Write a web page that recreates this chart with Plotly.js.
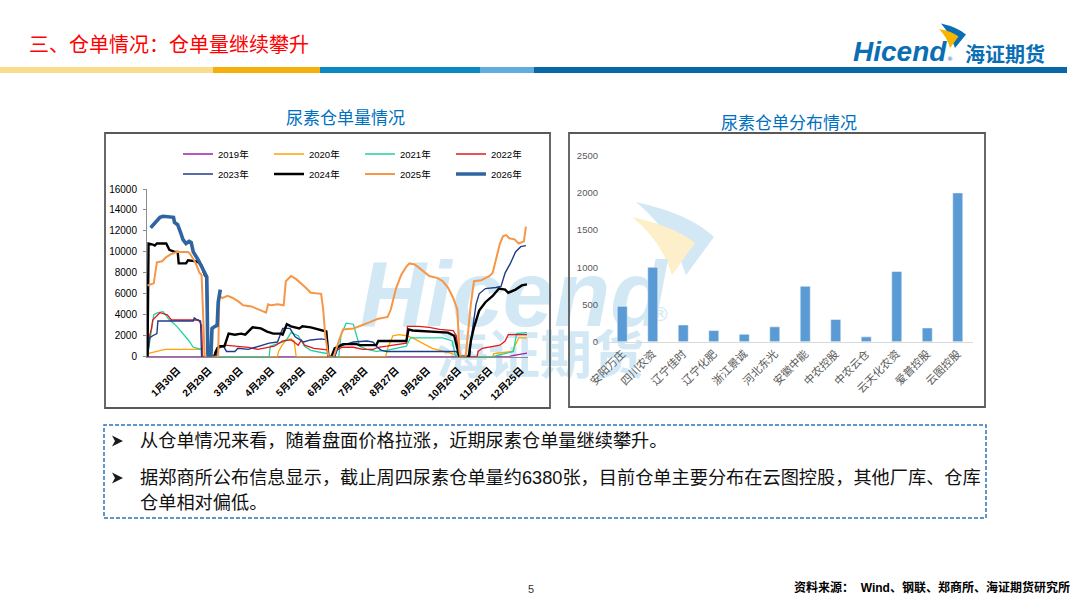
<!DOCTYPE html>
<html><head><meta charset="utf-8">
<script src="https://cdn.plot.ly/plotly-3.0.1.min.js"></script>
<style>html,body{margin:0;padding:0;background:#fff;}#chart{width:1080px;height:607px;}</style>
</head><body><div id="chart"></div><script>
// ---------- data ----------
const tickDays = [30,60,90,120,150,180,210,240,270,300,330,360];
const tickLabels = ['1月30日','2月29日','3月30日','4月29日','5月29日','6月28日','7月28日','8月27日','9月26日','10月26日','11月25日','12月25日'];

const seriesNames = ['2019年','2020年','2021年','2022年','2023年','2024年','2025年','2026年'];

const d2019 = [1,348,355,362,366];
const v2019 = [0,0,150,300,350];

const d2020 = [1,5,14,18,53,54,126,127,130,134,139,142,144,230,232,237,243,250,256,263,269,275,282,288,294,301,333,334,345,352,358,366];
const v2020 = [300,400,600,700,700,0,0,500,1000,1600,1700,1500,0,0,800,2000,2100,2000,1800,1400,1100,800,600,500,300,0,0,300,400,500,1800,1800];

const d2021 = [1,7,11,16,22,26,30,35,41,45,50,53,54,118,119,126,134,139,146,152,158,168,174,175,185,187,192,199,202,205,212,221,231,250,254,263,285,288,294,297,300,333,345,353,356,366];
const v2021 = [0,4000,4200,4300,3500,3200,2800,2200,1500,900,800,700,0,0,1000,1200,1500,2300,2000,1000,600,400,300,0,0,2000,3200,3100,2100,1000,700,500,600,1000,1800,1800,1800,1700,1500,200,0,0,300,500,2200,2300];

const d2022 = [1,3,5,6,11,13,20,24,50,51,53,54,65,66,70,75,88,98,107,117,123,131,139,142,146,149,152,161,171,174,175,181,183,188,199,208,218,223,231,243,250,251,262,272,282,295,298,300,302,318,319,323,329,336,340,345,348,366];
const v2022 = [0,2000,2800,3500,4000,4200,4000,3500,3500,3300,3000,0,0,500,900,1100,1000,900,700,900,1000,1500,1600,1400,1100,1600,1100,800,700,650,0,0,600,900,900,700,700,900,1000,1200,1300,2900,2900,2800,2600,2500,2000,500,0,0,500,800,900,1000,1100,1500,2100,2100];

const d2023 = [1,3,6,10,11,45,46,49,52,53,67,69,74,77,85,88,98,107,113,118,126,131,138,143,151,158,168,172,174,175,181,184,186,192,199,212,218,222,226,231,298,301,311,312,314,317,320,326,336,341,345,350,355,360,365];
const v2023 = [0,1800,2000,2200,3400,3400,3700,3500,3400,0,0,800,1000,500,500,800,700,1000,1200,1300,1400,2700,2700,1900,1400,1600,1700,1600,1600,0,0,800,1000,1200,1400,1500,1400,900,600,500,500,0,0,1500,3000,5000,6000,6500,6600,6700,8000,8900,10000,10500,10600];

const d2024 = [1,2,6,8,10,19,22,27,30,31,38,40,48,50,53,56,58,59,60,61,65,68,70,75,79,85,91,95,102,110,116,122,129,131,135,139,147,150,158,171,173,175,178,181,186,189,202,205,221,223,250,252,256,290,296,301,310,312,315,320,326,333,339,345,348,355,361,366];
const v2024 = [0,10800,10700,10600,10800,10800,10200,10000,10000,8900,8900,9200,9100,9000,8700,7800,7500,0,300,0,0,800,1000,1000,2200,2100,2200,2100,2800,2700,2400,2200,2200,2100,3100,2900,2700,2900,2800,2500,2400,0,0,800,1100,1200,1200,1100,1100,1500,1500,2600,2500,2300,2000,0,0,1500,2800,4400,5200,5800,6500,6400,6100,6400,6800,6900];

const d2025 = [1,4,7,10,15,19,24,29,40,42,47,51,53,56,69,70,73,78,83,88,93,101,109,115,117,120,126,132,134,139,144,149,153,158,168,170,172,175,180,185,189,199,205,215,222,232,235,240,245,250,253,258,262,268,272,280,285,290,295,299,301,302,307,310,312,315,322,326,330,333,337,340,343,346,349,354,358,363,365];
const v2025 = [6800,6900,7000,9000,9100,9500,9800,10000,10000,9800,9000,8000,7800,0,0,5800,5600,5800,5600,5300,4900,4800,4500,4200,5000,4900,5000,4900,7200,7700,7400,7000,6600,6100,6000,4500,2000,0,0,1500,2600,2700,2900,3300,3600,3800,4500,6500,7800,8600,8900,8800,8500,8000,7700,7500,7200,6600,5600,4500,500,0,0,3000,5000,7200,7300,7500,7700,8000,9500,10800,11500,11600,11300,11200,10800,11000,12400];

const d2026 = [4,8,13,16,26,27,30,33,35,38,41,43,45,50,54,57,58,59,60,62,63,66,68,69,71];
const v2026 = [12300,12800,13300,13400,13300,12800,12600,11800,11200,10800,11000,10900,10000,9200,8300,7800,7600,300,0,0,2700,2900,3000,5200,6400];

const warehouses = ['安阳万庄','四川农资','辽宁佳时','辽宁化肥','浙江景诚','河北东光','安徽中能','中农控股','中农云仓','云天化农资','爱普控股','云图控股'];
const receipts = [475,1000,225,150,100,200,745,300,65,945,185,2000];

// ---------- styling ----------
const W = 1080, H = 607;
const X = p => p / W;
const Y = p => 1 - p / H;
const CJK = 'Noto Sans CJK SC';
const MIX = 'Liberation Sans, Noto Sans CJK SC';

const lineStyles = [
  {color:'#A21CAF', width:1.3},
  {color:'#FFA500', width:1.3},
  {color:'#1DD3A0', width:1.3},
  {color:'#E31A1C', width:1.3},
  {color:'#1F3C88', width:1.4},
  {color:'#000000', width:2.4},
  {color:'#F79646', width:2},
  {color:'#2E64A0', width:3.6}
];
const dayArrs = [d2019,d2020,d2021,d2022,d2023,d2024,d2025,d2026];
const valArrs = [v2019,v2020,v2021,v2022,v2023,v2024,v2025,v2026];

const traces = seriesNames.map((n,i) => ({
  type:'scatter', mode:'lines', name:n, x:dayArrs[i], y:valArrs[i],
  xaxis:'x', yaxis:'y', line:Object.assign({shape:'linear'}, lineStyles[i]),
  legend: i < 4 ? 'legend' : 'legend2', hoverinfo:'skip'
}));
traces.push({
  type:'bar', x:warehouses, y:receipts, xaxis:'x2', yaxis:'y2', showlegend:false,
  marker:{color:'#5B9BD5', line:{color:'#ffffff', width:0.5}}, hoverinfo:'skip'
});

const legendBase = {
  orientation:'h', xanchor:'left', yanchor:'middle', entrywidth:46, entrywidthmode:'pixels',
  itemwidth:30, bgcolor:'rgba(0,0,0,0)', font:{family:MIX, size:9.5, color:'#000'}
};

const shapes = [];
// header colour band
[[0,213,'#F9DC8C'],[213,320,'#F4B00C'],[320,480,'#0A88C2'],[480,534,'#5FAEDD'],[534,1067,'#0867A5']].forEach(s=>{
  shapes.push({type:'rect', xref:'paper', yref:'paper', x0:X(s[0]), x1:X(s[1]), y0:Y(73), y1:Y(67), fillcolor:s[2], line:{width:0}, layer:'above'});
});
// watermark (below traces)
const wmBlue = '#D2E8F5', wmYellow = '#FCEFC9';
function pathPx(cmds){ // cmds in pixel coords -> paper path
  return cmds.replace(/(-?\d+\.?\d*),(-?\d+\.?\d*)/g, (m,a,b)=> X(+a).toFixed(5)+','+Y(+b).toFixed(5));
}
shapes.push({type:'path', xref:'paper', yref:'paper', layer:'below', fillcolor:wmBlue, line:{width:0},
  path: pathPx('M 636,202 Q 690,214 714,237 L 686,275 Q 672,232 636,202 Z')});
shapes.push({type:'path', xref:'paper', yref:'paper', layer:'below', fillcolor:wmYellow, line:{width:0},
  path: pathPx('M 632,217 Q 674,226 695,243 L 672,275 Q 661,240 632,217 Z')});
shapes.push({type:'rect', xref:'paper', yref:'paper', layer:'below', x0:X(358), x1:X(668), y0:Y(330), y1:Y(240),
  fillcolor:'rgba(0,0,0,0)', line:{width:0},
  label:{text:'Hicend', textposition:'middle center', font:{family:'Liberation Sans', size:92, color:wmBlue, weight:'bold', style:'italic'}}});
shapes.push({type:'rect', xref:'paper', yref:'paper', layer:'below', x0:X(420), x1:X(660), y0:Y(385), y1:Y(333),
  fillcolor:'rgba(0,0,0,0)', line:{width:0},
  label:{text:'海证期货', textposition:'middle center', font:{family:CJK, size:52, color:wmBlue, weight:'bold'}}});
shapes.push({type:'rect', xref:'paper', yref:'paper', layer:'below', x0:X(648), x1:X(672), y0:Y(324), y1:Y(302),
  fillcolor:'rgba(0,0,0,0)', line:{width:0},
  label:{text:'®', textposition:'middle center', font:{family:'DejaVu Sans', size:20, color:wmBlue}}});
// chart frames
shapes.push({type:'rect', xref:'paper', yref:'paper', x0:X(105), x1:X(550), y0:Y(408), y1:Y(133), line:{color:'#595959', width:1.8}, fillcolor:'rgba(0,0,0,0)'});
shapes.push({type:'rect', xref:'paper', yref:'paper', x0:X(569), x1:X(985), y0:Y(407), y1:Y(133), line:{color:'#595959', width:1.8}, fillcolor:'rgba(0,0,0,0)'});
// dashed text box
shapes.push({type:'rect', xref:'paper', yref:'paper', x0:X(104), x1:X(986), y0:Y(518), y1:Y(425), line:{color:'#2E75B6', width:1.5, dash:'4px,2px'}, fillcolor:'rgba(0,0,0,0)'});
// bullet arrowheads
[441, 478].forEach(cy => {
  shapes.push({type:'path', xref:'paper', yref:'paper', fillcolor:'#1a1a1a', line:{width:0},
    path: pathPx(`M 112,${cy-5.5} L 123,${cy} L 112,${cy+5.5} L 115,${cy} Z`)});
});
// header logo swoosh
shapes.push({type:'path', xref:'paper', yref:'paper', fillcolor:'#0A6EB4', line:{width:0},
  path: pathPx('M 941,23.5 Q 957,27 966,34.5 L 955,48 Q 951,35 941,23.5 Z')});
shapes.push({type:'path', xref:'paper', yref:'paper', fillcolor:'#F8B500', line:{width:0},
  path: pathPx('M 939,29 Q 951,31 958.5,36.5 L 950,48 Q 947,37 939,29 Z')});

const ann = [];
function A(text, x, y, opts){ ann.push(Object.assign({text, x:X(x), y:Y(y), xref:'paper', yref:'paper', showarrow:false, xanchor:'left', yanchor:'middle'}, opts||{})); }
A('三、仓单情况：仓单量继续攀升', 27, 43, {font:{family:CJK, size:20, color:'#FF0000'}});
A('Hicend', 851, 52, {font:{family:'Liberation Sans', size:28, color:'#0A6EB4', weight:'bold', style:'italic'}});
A('®', 945, 58, {font:{family:'DejaVu Sans', size:6, color:'#0A6EB4'}});
A('海证期货', 963, 53, {font:{family:CJK, size:20, color:'#0A6EB4', weight:'bold'}});
A('尿素仓单量情况', 345, 116, {xanchor:'center', font:{family:CJK, size:17, color:'#0070C0'}});
A('尿素仓单分布情况', 789, 121, {xanchor:'center', font:{family:CJK, size:17, color:'#0070C0'}});
A('从仓单情况来看，随着盘面价格拉涨，近期尿素仓单量继续攀升。', 138, 441, {font:{family:MIX, size:18.2, color:'#111'}});
A('据郑商所公布信息显示，截止周四尿素仓单量约6380张，目前仓单主要分布在云图控股，其他厂库、仓库', 138, 478, {font:{family:MIX, size:18.2, color:'#111'}});
A('仓单相对偏低。', 138, 503, {font:{family:MIX, size:18.2, color:'#111'}});
A('5', 531, 589, {xanchor:'center', font:{family:MIX, size:11, color:'#333'}});
A('资料来源：  Wind、钢联、郑商所、海证期货研究所', 1072, 587, {xanchor:'right', font:{family:MIX, size:12, color:'#000', weight:'bold'}});

const layout = {
  width:W, height:H, margin:{l:0,r:0,t:0,b:0}, paper_bgcolor:'#ffffff', plot_bgcolor:'rgba(0,0,0,0)',
  font:{family:MIX, color:'#000'}, showlegend:true, bargap:0.67, hovermode:false,
  legend: Object.assign({x:X(178), y:Y(154)}, legendBase),
  legend2: Object.assign({x:X(178), y:Y(174)}, legendBase),
  xaxis:{domain:[X(147), X(527.5)], range:[0.5,366.5], tickmode:'array', tickvals:tickDays, ticktext:tickLabels,
    tickangle:-45, tickfont:{family:MIX, size:10, color:'#000', weight:'bold'}, showline:true, linecolor:'#8C8C8C', linewidth:1,
    showgrid:false, zeroline:false, ticks:'', ticklabelstandoff:3, anchor:'y', fixedrange:true},
  yaxis:{domain:[Y(356.7), Y(189)], range:[0,16000], tickmode:'linear', tick0:0, dtick:2000, tickformat:'d',
    tickfont:{family:MIX, size:10, color:'#000'}, showline:true, linecolor:'#8C8C8C', linewidth:1,
    showgrid:false, zeroline:false, ticks:'outside', ticklen:3, tickcolor:'#8C8C8C', ticklabelstandoff:4, anchor:'x', fixedrange:true},
  xaxis2:{domain:[X(607), X(973)], type:'category', tickangle:-45, tickfont:{family:CJK, size:11, color:'#595959'},
    showline:true, linecolor:'#D9D9D9', linewidth:1.5, showgrid:false, zeroline:false, ticks:'', anchor:'y2', fixedrange:true},
  yaxis2:{domain:[Y(341.7), Y(155.7)], range:[0,2500], tickmode:'linear', tick0:0, dtick:500, tickformat:'d',
    tickfont:{family:MIX, size:9.5, color:'#595959'}, showline:false, showgrid:false, zeroline:false, ticks:'',
    ticklabelstandoff:8, anchor:'x2', fixedrange:true},
  shapes, annotations:ann
};
Plotly.newPlot('chart', traces, layout, {staticPlot:true, displayModeBar:false});
</script></body></html>
